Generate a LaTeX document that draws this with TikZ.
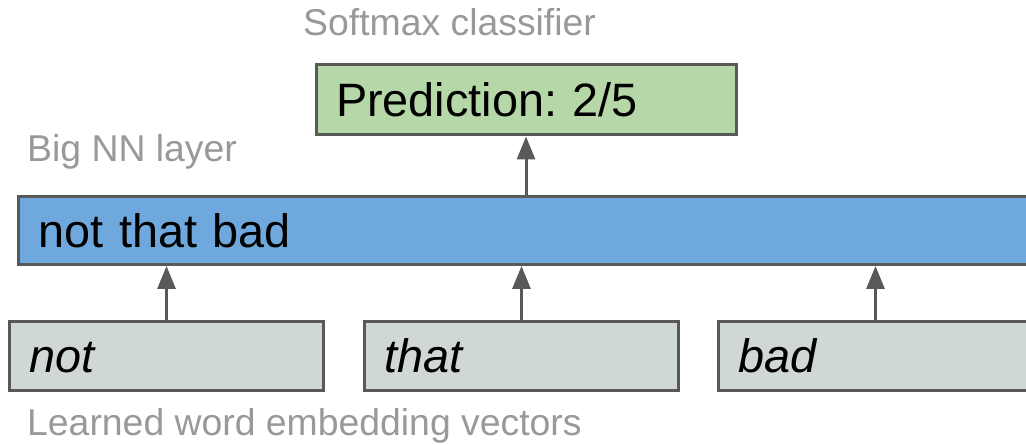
\documentclass[tikz,border=0pt]{standalone}
\usepackage{fontspec}
\setmainfont{Liberation Sans}
\usetikzlibrary{arrows.meta}
\frenchspacing
\definecolor{edge}{HTML}{595959}
\definecolor{predfill}{HTML}{B6D7A8}
\definecolor{layerfill}{HTML}{6FA8DC}
\definecolor{wordfill}{HTML}{D0D7D7}
\definecolor{caption}{HTML}{999999}
\tikzset{
  box/.style={draw=edge, line width=3bp, rectangle, inner xsep=20bp, inner ysep=0pt,
    align=left, text height=34bp, text depth=0pt, font=\fontsize{47}{56}\selectfont},
  wordbox/.style={box, fill=wordfill, minimum width=314bp, minimum height=69bp,
    text width=274bp, font=\fontsize{47}{56}\selectfont\itshape},
  caption/.style={anchor=base west, inner sep=0pt, text=caption, font=\fontsize{37.5}{45}\selectfont},
  up/.style={draw=edge, line width=3bp, -{Triangle[width=18bp, length=23bp]}}
}
\begin{document}
\begin{tikzpicture}[x=1bp, y=-1bp]
  \useasboundingbox (0,0) rectangle (1026,445);
  \clip (0,0) rectangle (1026,445);
  % output layer
  \node[box, fill=predfill, minimum width=420bp, minimum height=70bp, text width=380bp]
    (pred) at (526,100) {Prediction: 2/5};
  % hidden layer running past the right edge
  \node[box, fill=layerfill, minimum width=1022bp, minimum height=68bp, text width=982bp]
    (layer) at (529.5,230.5) {not that bad};
  % word vectors
  \node[wordbox] (w1) at (166.5,356) {not};
  \node[wordbox] (w2) at (521.5,356) {that};
  \node[wordbox] (w3) at (875.5,356) {bad};
  % captions
  \node[caption] (capsoft) at (303,36) {Softmax classifier};
  \node[caption] (capnn) at (27,162) {Big NN layer};
  \node[caption] (capemb) at (27,435) {Learned word embedding vectors};
  % connections
  \draw[up] (w1.north) -- (w1.north |- layer.south);
  \draw[up] (w2.north) -- (w2.north |- layer.south);
  \draw[up] (w3.north) -- (w3.north |- layer.south);
  \draw[up] (pred.south |- layer.north) -- (pred.south);
\end{tikzpicture}
\end{document}
